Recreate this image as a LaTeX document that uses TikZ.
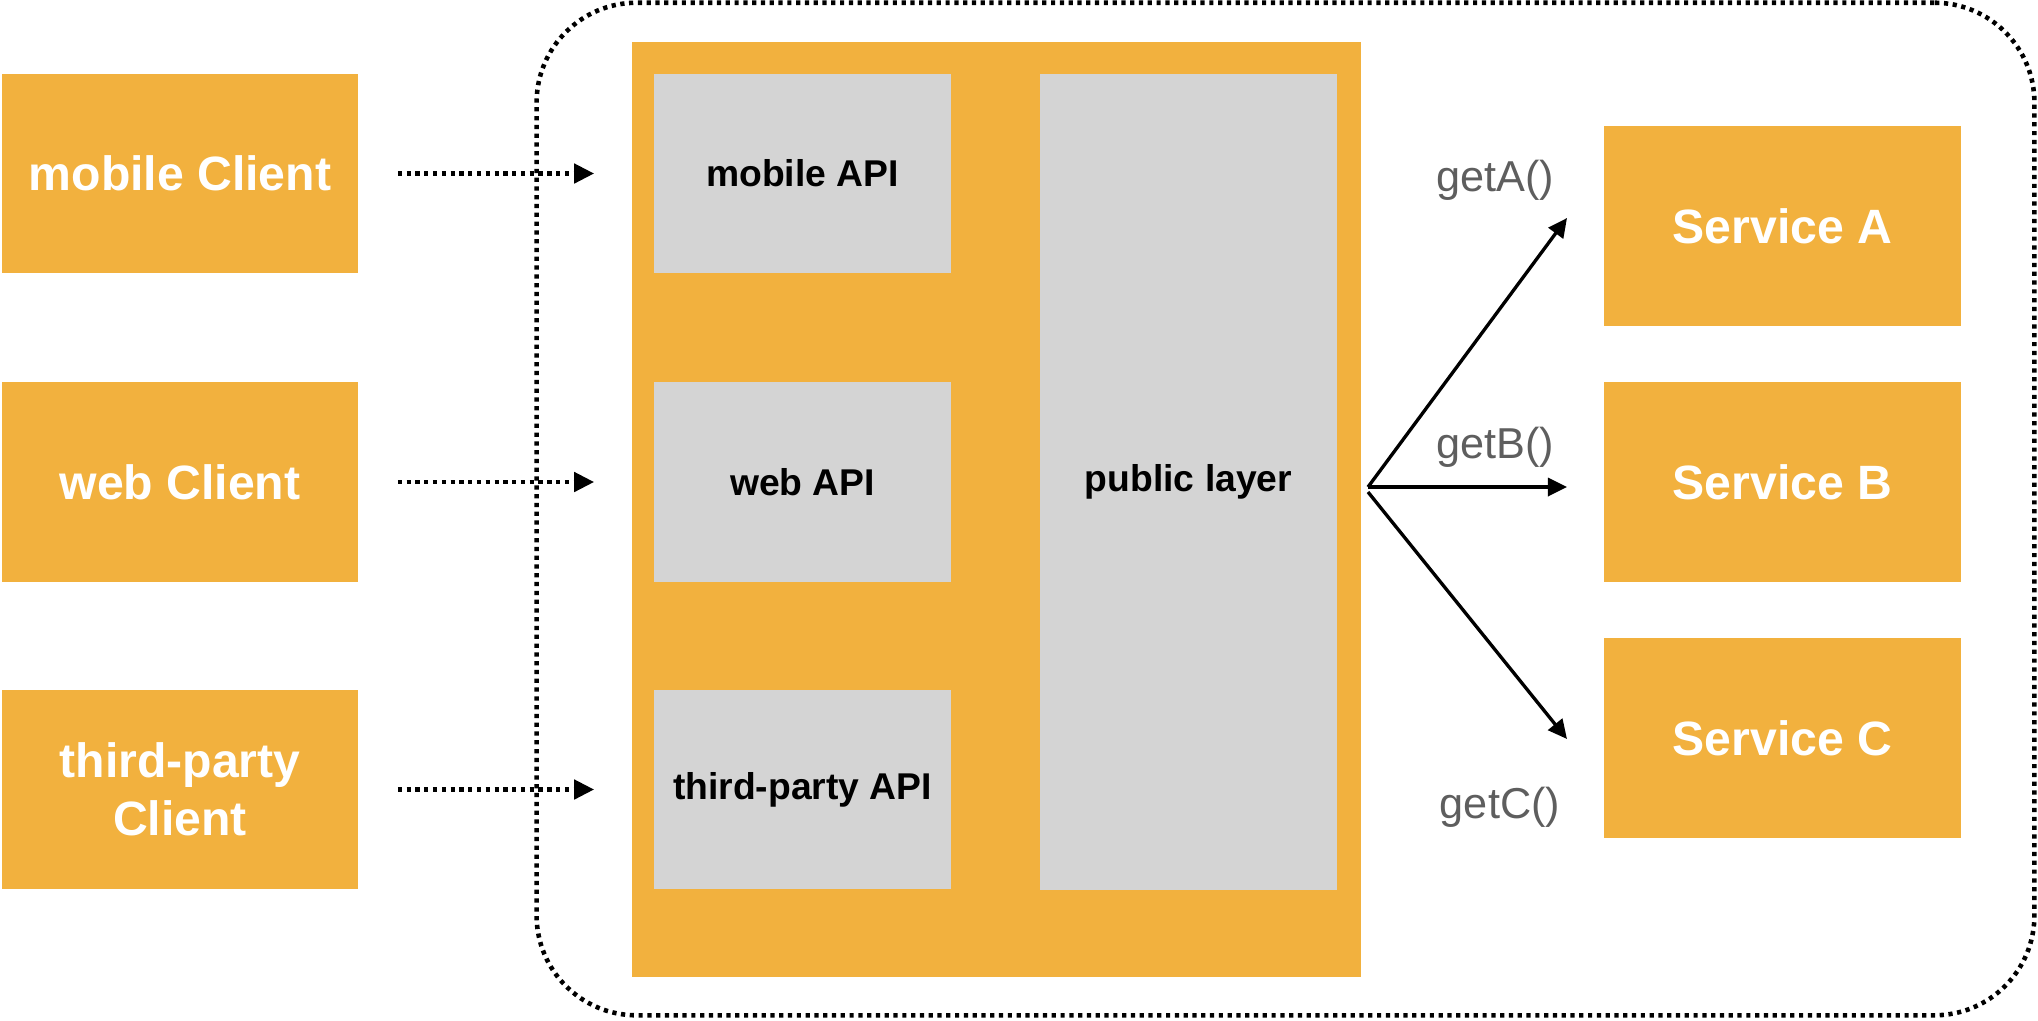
\documentclass[tikz,border=0pt]{standalone}
\usepackage{fontspec}
\setmainfont{Liberation Sans}
\usetikzlibrary{arrows.meta}
\definecolor{orng}{HTML}{F2B13E}
\definecolor{gry}{HTML}{D4D4D4}
\definecolor{lbl}{HTML}{5E5E5E}
\begin{document}
\begin{tikzpicture}[x=0.01cm,y=-0.01cm,
  obox/.style={fill=orng, draw=none, text=white, font=\bfseries\fontsize{13.7}{16.5}\selectfont, align=center, inner sep=0pt, minimum width=3.56cm, minimum height=1.99cm},
  gbox/.style={fill=gry, draw=none, text=black, font=\bfseries\fontsize{10.6}{13}\selectfont, align=center, inner sep=0pt, minimum width=2.97cm, minimum height=1.99cm},
  getlbl/.style={text=lbl, font=\fontsize{12.3}{14}\selectfont, inner sep=0pt},
  dotline/.style={line width=1.3pt, dash pattern=on 1.2pt off 1.3pt},
  dotarrow/.style={dotline, -{Triangle[length=0.2cm,width=0.19cm]}},
  solarrow/.style={line width=0.95pt, -{Triangle[length=0.19cm,width=0.18cm]}}
]
\useasboundingbox (0,0) rectangle (2038,1020);

% outer dotted frame
\node[draw, dotline, rounded corners=1cm, minimum width=14.97cm, minimum height=10.12cm, inner sep=0pt] (frame) at (1285.5,509) {};

% big orange container
\node[fill=orng, inner sep=0pt, minimum width=7.29cm, minimum height=9.35cm] (gateway) at (996.5,509.5) {};

% clients
\node[obox] (mc) at (180,173.5) {mobile Client};
\node[obox] (wc) at (180,482) {web Client};
\node[obox] (tc) at (180,789.5) {third-party\\Client};

% APIs
\node[gbox] (mapi) at (802.5,173.5) {mobile API};
\node[gbox] (wapi) at (802.5,482) {web API};
\node[gbox] (tapi) at (802.5,789.5) {third-party API};

% public layer
\node[gbox, minimum height=8.16cm] (pub) at (1188.5,482) {public layer};

% services
\node[obox, minimum width=3.57cm, minimum height=2.0cm] (sa) at (1782.5,226) {Service A};
\node[obox, minimum width=3.57cm, minimum height=2.0cm] (sb) at (1782.5,482) {Service B};
\node[obox, minimum width=3.57cm, minimum height=2.0cm] (sc) at (1782.5,738) {Service C};

% dotted arrows clients -> APIs
\draw[dotarrow, shorten <=0.39cm, shorten >=0.59cm] (mc.east) -- (mapi.west);
\draw[dotarrow, shorten <=0.39cm, shorten >=0.59cm] (wc.east) -- (wapi.west);
\draw[dotarrow, shorten <=0.39cm, shorten >=0.59cm] (tc.east) -- (tapi.west);

% fan arrows
\coordinate (fan) at (1368,487);
\coordinate (fanc) at (1368,492);
\coordinate (ta) at (1567,218);
\coordinate (tb) at (1567,487);
\coordinate (tcc) at (1567,739);
\draw[solarrow] (fan) -- (ta);
\draw[solarrow] (fan) -- (tb);
\draw[solarrow] (fanc) -- (tcc);

% labels
\node[getlbl] (la) at (1495,180) {getA()};
\node[getlbl] (lb) at (1495,447) {getB()};
\node[getlbl] (lc) at (1500,807) {getC()};
\end{tikzpicture}
\end{document}
